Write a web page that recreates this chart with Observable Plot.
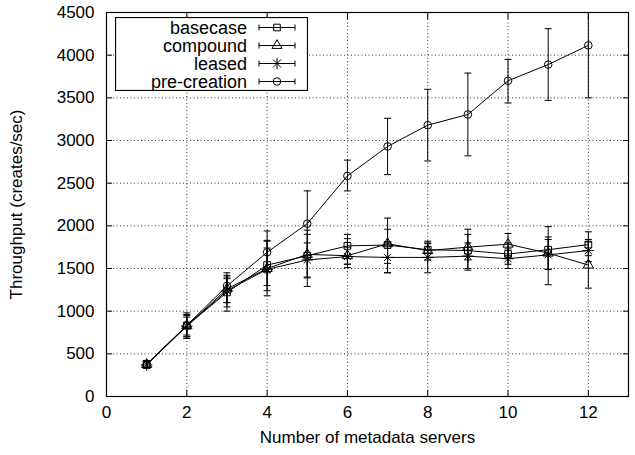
<!DOCTYPE html>
<html><head><meta charset="utf-8">
<script src="https://cdn.jsdelivr.net/npm/d3@7"></script>
<script src="https://cdn.jsdelivr.net/npm/@observablehq/plot@0.6"></script>
<style>
body{margin:0;background:#fff;}
#wrap{position:relative;width:635px;height:455px;font-family:"Liberation Sans",Arial,Helvetica,sans-serif;}
#legend{position:absolute;left:115px;top:17px;}
</style></head><body><div id="wrap"></div>
<script>
const servers = [1,2,3,4,5,6,7,8,9,10,11,12];
const seriesNames = ["basecase","compound","leased","pre-creation"];

const basecase   = [380, 830, 1220, 1540, 1650, 1765, 1775, 1720, 1710, 1670, 1720, 1780];
const basecaseLo = [345, 720, 1100, 1300, 1400, 1550, 1560, 1600, 1500, 1550, 1310, 1650];
const basecaseHi = [415, 950, 1400, 1820, 1900, 1900, 2090, 1820, 1960, 1800, 1990, 1930];

const compound   = [375, 830, 1260, 1500, 1665, 1650, 1790, 1710, 1750, 1785, 1680, 1540];
const compoundLo = [340, 680, 1000, 1180, 1290, 1510, 1450, 1630, 1600, 1650, 1490, 1270];
const compoundHi = [410, 960, 1420, 1830, 1950, 1850, 1960, 1790, 1900, 1910, 1870, 1810];

const leased     = [370, 825, 1240, 1490, 1600, 1640, 1630, 1630, 1645, 1615, 1660, 1710];
const leasedLo   = [330, 700, 1050, 1240, 1390, 1550, 1450, 1450, 1480, 1500, 1490, 1580];
const leasedHi   = [405, 930, 1380, 1740, 1800, 1750, 1800, 1800, 1800, 1730, 1840, 1840];

const precreation   = [375, 835, 1295, 1690, 2025, 2585, 2930, 3180, 3305, 3700, 3890, 4115];
const precreationLo = [335, 700, 1100, 1450, 1650, 2410, 2600, 2760, 2820, 3440, 3470, 3500];
const precreationHi = [420, 980, 1450, 1940, 2410, 2770, 3260, 3600, 3790, 3950, 4310, 4730];

const xTicks = [0,2,4,6,8,10,12];
const yTicks = [0,500,1000,1500,2000,2500,3000,3500,4000,4500];
const xLabel = "Number of metadata servers";
const yLabel = "Throughput (creates/sec)";

const table = [
  [seriesNames[0], basecase, basecaseLo, basecaseHi],
  [seriesNames[1], compound, compoundLo, compoundHi],
  [seriesNames[2], leased, leasedLo, leasedHi],
  [seriesNames[3], precreation, precreationLo, precreationHi]
];
const rows = table.flatMap(([s, v, lo, hi]) => servers.map((x, i) => ({series: s, x, y: v[i], lo: lo[i], hi: hi[i]})));

const FONT = '"Liberation Sans", Arial, Helvetica, sans-serif';
const cap = {draw(ctx, size){ const r = Math.sqrt(size/Math.PI); ctx.moveTo(-r,0); ctx.lineTo(r,0); }};
const yMax = yTicks[yTicks.length-1];
const plain = d => String(d);
const tickOpts = {tickSize: -6, tickFormat: () => "", label: null, stroke: "black"};
const grid = {stroke: "black", strokeOpacity: 1, strokeWidth: 0.8, strokeDasharray: "1,2.5"};
const bySeries = s => rows.filter(d => d.series === s);
const dotOpts = {x: "x", y: "y", r: 3.8, stroke: "black", strokeWidth: 1, fill: "none"};

const chart = Plot.plot({
  width: 635, height: 455,
  marginLeft: 106, marginRight: 7, marginTop: 12, marginBottom: 59,
  style: {fontSize: "17px", fontFamily: FONT, color: "black", background: "white"},
  x: {domain: [0, 13]},
  y: {domain: [0, yMax]},
  marks: [
    Plot.gridX(xTicks.slice(1), grid),
    Plot.gridY(yTicks.slice(1, -1), grid),
    Plot.axisX(xTicks, {anchor: "bottom", tickSize: 0, tickPadding: 9, tickFormat: plain, fontSize: 17, label: xLabel, labelAnchor: "center", labelOffset: 46, labelArrow: "none"}),
    Plot.axisY(yTicks, {anchor: "left", tickSize: 0, tickPadding: 12, tickFormat: plain, fontSize: 17, label: yLabel, labelAnchor: "center", labelOffset: 97, labelArrow: "none"}),
    Plot.axisX(xTicks, {anchor: "bottom", ...tickOpts}),
    Plot.axisX(xTicks, {anchor: "top", ...tickOpts}),
    Plot.axisY(yTicks, {anchor: "left", ...tickOpts}),
    Plot.axisY(yTicks, {anchor: "right", ...tickOpts}),
    Plot.ruleX(rows, {x: "x", y1: "lo", y2: "hi", stroke: "black", strokeWidth: 1, clip: true}),
    Plot.dot(rows, {x: "x", y: "lo", symbol: cap, r: 3.5, stroke: "black", strokeWidth: 1}),
    Plot.dot(rows.filter(d => d.hi <= yMax), {x: "x", y: "hi", symbol: cap, r: 3.5, stroke: "black", strokeWidth: 1}),
    Plot.line(rows, {x: "x", y: "y", z: "series", stroke: "black", strokeWidth: 1}),
    Plot.dot(bySeries("basecase"), {...dotOpts, symbol: "square"}),
    Plot.dot(bySeries("compound"), {...dotOpts, symbol: "triangle"}),
    Plot.dot(bySeries("leased"), {...dotOpts, symbol: "plus"}),
    Plot.dot(bySeries("leased"), {...dotOpts, symbol: "times", r: 3.3}),
    Plot.dot(bySeries("pre-creation"), {...dotOpts, symbol: "circle"}),
    Plot.frame({stroke: "black", strokeWidth: 1.2})
  ]
});
const wrap = document.getElementById("wrap");
wrap.appendChild(chart);

// legend overlay
const legW = 193, legH = 74, rowH = 18;
const leg = d3.select(wrap).append("svg").attr("id", "legend").attr("width", legW).attr("height", legH)
  .style("font-family", FONT).style("font-size", "18px");
leg.append("rect").attr("x", 0.5).attr("y", 0.5).attr("width", legW - 1).attr("height", legH - 1)
  .attr("fill", "white").attr("stroke", "black").attr("stroke-width", 1.2);
const symMap = {"basecase": [d3.symbolSquare], "compound": [d3.symbolTriangle], "leased": [d3.symbolPlus, d3.symbolX], "pre-creation": [d3.symbolCircle]};
seriesNames.forEach((s, i) => {
  const cy = 10.5 + i * rowH;
  const g = leg.append("g");
  g.append("text").attr("x", 132).attr("y", cy).attr("dy", "0.35em").attr("text-anchor", "end").text(s);
  const x0 = 144, x1 = 180;
  g.append("path").attr("d", `M${x0},${cy}H${x1}M${x0},${cy-3}V${cy+3}M${x1},${cy-3}V${cy+3}`).attr("stroke", "black").attr("fill", "none");
  symMap[s].forEach(t => {
    g.append("path").attr("transform", `translate(${(x0+x1)/2},${cy})`)
      .attr("d", d3.symbol(t, Math.PI * 14)()).attr("fill", "none").attr("stroke", "black");
  });
});
</script></body></html>
